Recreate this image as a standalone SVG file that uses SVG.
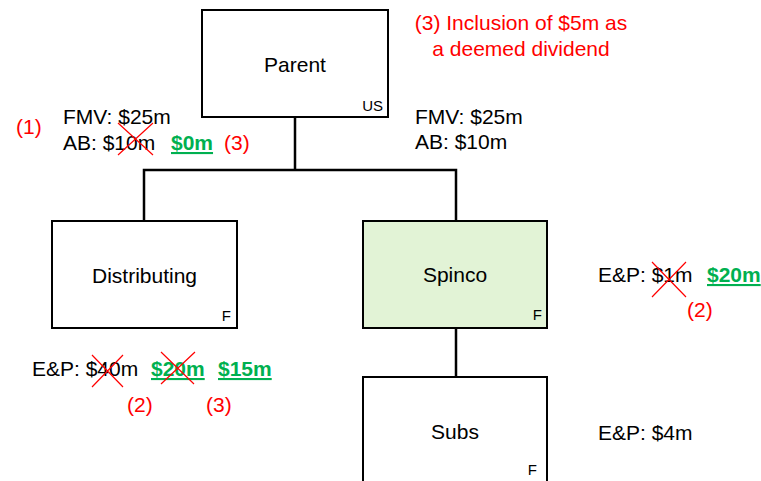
<svg xmlns="http://www.w3.org/2000/svg" width="761" height="481" viewBox="0 0 761 481">
<style>
text{font-family:"Liberation Sans",Arial,sans-serif;font-size:21px;fill:#000}
.box{fill:#fff;stroke:#000;stroke-width:2}
.spin{fill:#e2f3d6}
.lbl{text-anchor:middle}
.sm{font-size:15px}
.red{fill:#ff0000}
.grn{fill:#00b050;font-weight:bold;text-decoration:underline}
.x{stroke:#ff0000;stroke-width:1.2}
.conn{fill:none;stroke:#000;stroke-width:2.5}
</style>
<rect width="761" height="481" fill="#fff"/>
<g id="connectors">
<path class="conn" d="M295,117 V170 M144,221 V170 H456 V221 M456,328 V377"/>
</g>
<g id="parent">
<rect class="box" x="202" y="10" width="186" height="107"/>
<text class="lbl" x="295" y="72">Parent</text>
<text class="sm" x="383" y="111" text-anchor="end">US</text>
</g>
<g id="distributing">
<rect class="box" x="52" y="221" width="185" height="107"/>
<text class="lbl" x="144.5" y="283">Distributing</text>
<text class="sm" x="231" y="321" text-anchor="end">F</text>
</g>
<g id="spinco">
<rect class="box spin" x="363" y="221" width="184" height="107"/>
<text class="lbl" x="455" y="282">Spinco</text>
<text class="sm" x="542" y="320" text-anchor="end">F</text>
</g>
<g id="subs">
<rect class="box" x="363" y="377" width="184" height="120"/>
<text class="lbl" x="455" y="439">Subs</text>
<text class="sm" x="537" y="475" text-anchor="end">F</text>
</g>
<g id="annotations">
<text class="red lbl" x="521" y="30">(3) Inclusion of $5m as</text>
<text class="red lbl" x="521" y="56">a deemed dividend</text>
<text class="red" x="16" y="134">(1)</text>
<text x="63" y="124">FMV: $25m</text>
<text x="63" y="150">AB: $10m</text>
<text class="grn" x="171" y="150">$0m</text>
<text class="red" x="224" y="150">(3)</text>
<path class="x" d="M118,123 L153,155 M153,123 L118,155"/>
<text x="415" y="124">FMV: $25m</text>
<text x="415" y="149">AB: $10m</text>
<text x="32" y="376">E&amp;P: $40m</text>
<path class="x" d="M92,355 L123,387 M123,355 L92,387"/>
<text class="grn" x="151" y="376">$20m</text>
<path class="x" d="M161,352 L194,384 M195,352 L161,384"/>
<text class="grn" x="218" y="376">$15m</text>
<text class="red" x="127" y="412">(2)</text>
<text class="red" x="206" y="412">(3)</text>
<text x="598" y="282">E&amp;P: $1m</text>
<path class="x" d="M652,262 L686,297 M686,262 L652,297"/>
<text class="grn" x="707" y="282">$20m</text>
<text class="red" x="687" y="317">(2)</text>
<text x="598" y="440">E&amp;P: $4m</text>
</g>
</svg>
